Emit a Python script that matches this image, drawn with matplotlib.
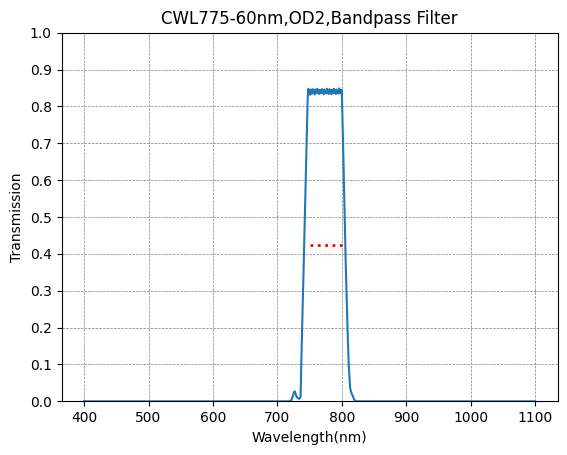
import matplotlib
matplotlib.use('Agg')
import matplotlib.pyplot as plt

# wavelength (nm) and transmission
wavelength = [400, 720, 722, 724, 726, 727, 728, 730, 732, 734, 736, 738, 741, 744, 747,
              748, 749, 750, 751, 752, 753, 754, 755, 756, 757, 758, 759, 760, 761, 762,
              763, 764, 765, 766, 767, 768, 769, 770, 771, 772, 773, 774, 775, 776, 777,
              778, 779, 780, 781, 782, 783, 784, 785, 786, 787, 788, 789, 790, 791, 792,
              793, 794, 795, 796, 797, 798, 799, 800, 803, 806, 809, 811, 813, 815, 817,
              819, 822, 1100]
transmission = [0.0, 0.0, 0.004, 0.015, 0.025, 0.027, 0.022, 0.012, 0.008, 0.007, 0.012, 0.166, 0.38, 0.60, 0.82,
                0.848, 0.838, 0.845, 0.832, 0.846, 0.840, 0.835, 0.847, 0.838, 0.843, 0.833, 0.846, 0.840, 0.836, 0.848,
                0.837, 0.844, 0.834, 0.845, 0.839, 0.836, 0.847, 0.837, 0.843, 0.833, 0.846, 0.838, 0.841, 0.835, 0.848,
                0.836, 0.844, 0.834, 0.847, 0.838, 0.842, 0.833, 0.846, 0.839, 0.836, 0.848, 0.837, 0.843, 0.834, 0.846,
                0.838, 0.841, 0.835, 0.849, 0.837, 0.844, 0.836, 0.845, 0.62, 0.38, 0.19, 0.09, 0.035, 0.022, 0.015,
                0.005, 0.0, 0.0]

# half-max marker (FWHM)
fwhm_x = [750, 800]
fwhm_y = [0.424, 0.424]

fig, ax = plt.subplots(figsize=(5.67, 4.55), dpi=100)
fig.subplots_adjust(left=0.1085, right=0.9835, top=0.928, bottom=0.118)

ax.plot(wavelength, transmission, color='#1f77b4', linewidth=1.5)
ax.plot(fwhm_x, fwhm_y, color='red', linestyle=':', linewidth=2)

ax.set_ylim(0, 1)
ax.set_yticks([i / 10 for i in range(11)])
ax.set_xticks([400, 500, 600, 700, 800, 900, 1000, 1100])
ax.grid(True, color='gray', linestyle='--', linewidth=0.5)
ax.set_title('CWL775-60nm,OD2,Bandpass Filter')
ax.set_xlabel('Wavelength(nm)')
ax.set_ylabel('Transmission')

fig.savefig('out.png', dpi=100)
